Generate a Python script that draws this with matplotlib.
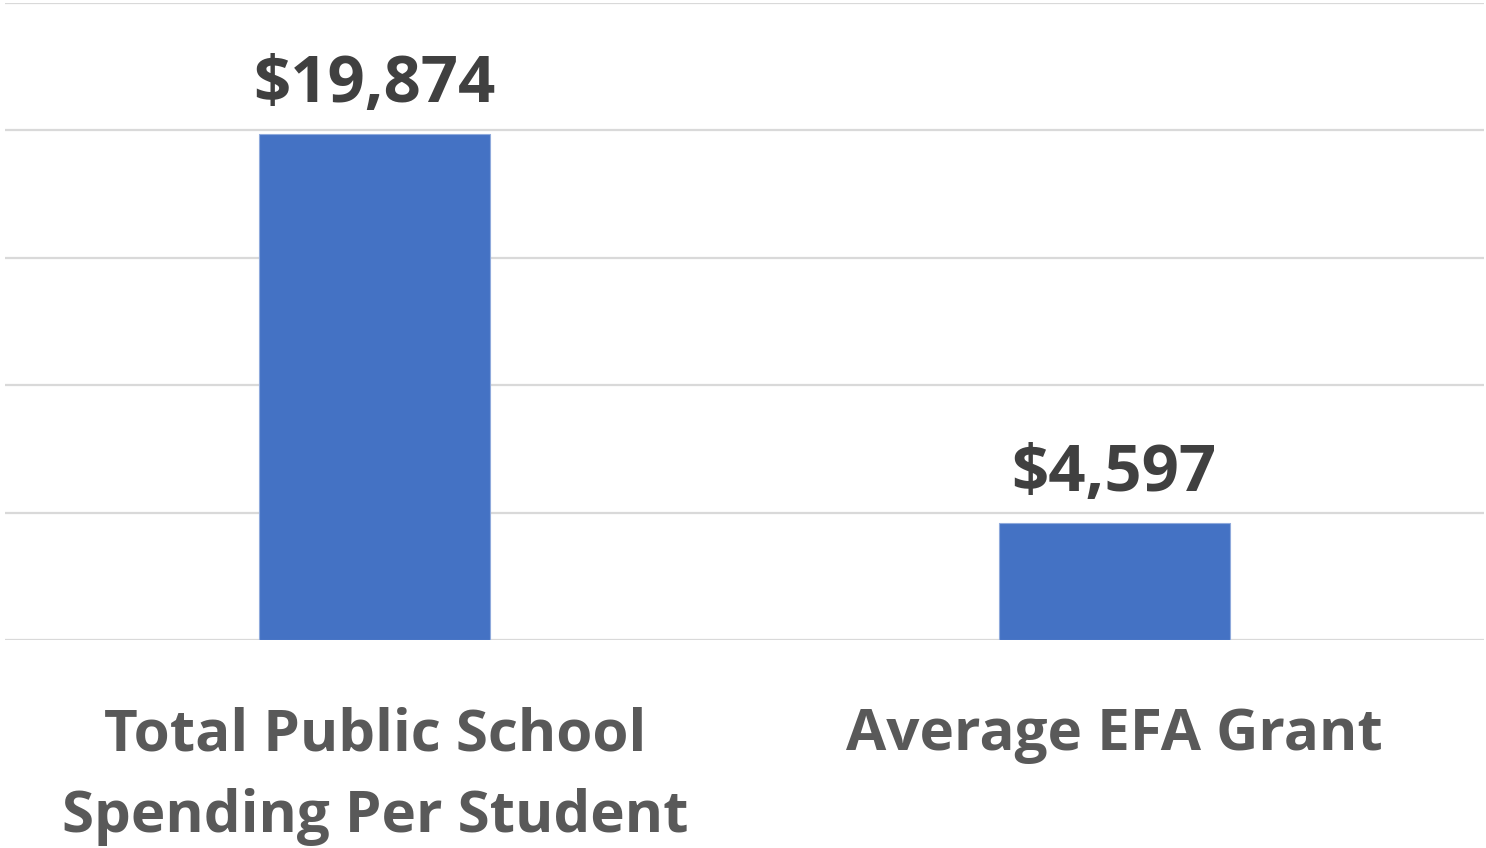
import matplotlib
matplotlib.use("Agg")
import matplotlib.pyplot as plt

categories = ["Total Public School\nSpending Per Student", "Average EFA Grant"]
values = [19874, 4597]
value_labels = ["$19,874", "$4,597"]
yticks = [0, 5000, 10000, 15000, 20000, 25000]

FONT = "Open Sans"
fig = plt.figure(figsize=(14.86, 8.48), dpi=100)
ax = fig.add_axes([5/1486, 208/848, 1479/1486, 637/848])
ax.set_xlim(-0.5, 1.5)
ax.set_ylim(0, 25000)
ax.set_yticks(yticks)
for y in yticks:
    ax.axhline(y, color="#d9d9d9", lw=1.6, zorder=0)
ax.bar(range(len(values)), values, width=231/739.5, color="#4472C4",
       edgecolor="#8faadc", linewidth=0.8, zorder=2)
for i, (v, lab) in enumerate(zip(values, value_labels)):
    ax.annotate(lab, (i, v), xytext=(0, 16), textcoords="offset pixels",
                ha="center", va="bottom", fontsize=47, fontweight="bold",
                color="#404040", family=FONT)
ax.set_xticks(range(len(categories)))
ax.set_xticklabels([])
for i, c in enumerate(categories):
    ax.text(i, -0.104, c, transform=ax.get_xaxis_transform(), ha="center", va="top",
            fontsize=42, fontweight="bold", color="#595959", family=FONT,
            linespacing=1.53)
for s in ax.spines.values():
    s.set_visible(False)
ax.tick_params(left=False, bottom=False, labelleft=False, labelbottom=False)
fig.savefig("out.png", dpi=100)
